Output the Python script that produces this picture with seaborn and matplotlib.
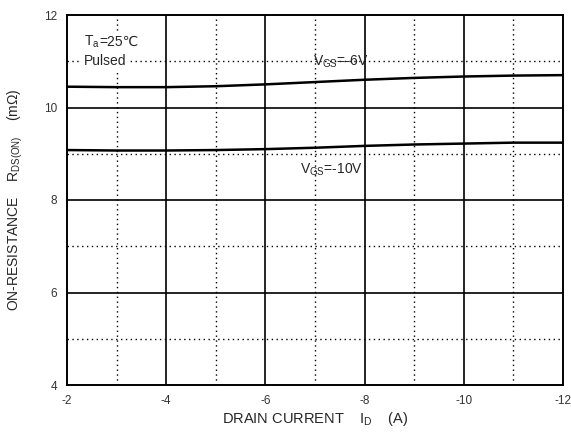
import matplotlib
matplotlib.use("Agg")
import matplotlib.pyplot as plt
import seaborn as sns
import pandas as pd
import numpy as np

# Data
drain_current = [-2, -3, -4, -5, -6, -7, -8, -9, -10, -11, -12]
r_vgs6 = [10.45, 10.44, 10.44, 10.46, 10.50, 10.55, 10.60, 10.64, 10.67, 10.69, 10.70]
r_vgs10 = [9.08, 9.07, 9.07, 9.08, 9.10, 9.13, 9.17, 9.20, 9.22, 9.24, 9.24]
x_ticks = [-2, -4, -6, -8, -10, -12]
y_ticks = [4, 6, 8, 10, 12]

sns.set_style("white")
plt.rcParams['font.family'] = ['Liberation Sans', 'DejaVu Sans']
plt.rcParams['mathtext.fontset'] = 'custom'
plt.rcParams['mathtext.rm'] = 'Liberation Sans'
plt.rcParams['mathtext.it'] = 'Liberation Sans'

df = pd.DataFrame({
    "ID": drain_current * 2,
    "R": r_vgs6 + r_vgs10,
    "curve": ["-6"] * len(drain_current) + ["-10"] * len(drain_current),
})

fig = plt.figure(figsize=(5.71, 4.32), dpi=100)
ax = fig.add_axes([67/571, 1-385/432, (563-67)/571, (385-15)/432])

# grid
for xv in [-3, -5, -7, -9, -11]:
    ax.axvline(xv, color="black", lw=1.0, ls=(0, (1, 2.5)), zorder=1)
for yv in [5, 7, 9, 11]:
    ax.axhline(yv, color="black", lw=1.0, ls=(0, (1, 2.5)), zorder=1)
for xv in [-4, -6, -8, -10]:
    ax.axvline(xv, color="black", lw=1.2, zorder=1)
for yv in [6, 8, 10]:
    ax.axhline(yv, color="black", lw=1.2, zorder=1)

sns.lineplot(data=df, x="ID", y="R", hue="curve", palette=["black", "black"],
             lw=1.8, legend=False, ax=ax, zorder=3, sort=True)

ax.set_xlim(-2, -12)
ax.set_ylim(4, 12)
ax.set_xticks(x_ticks)
ax.set_xticklabels([str(v) for v in x_ticks])
ax.set_yticks(y_ticks)
ax.set_yticklabels([str(v) for v in y_ticks])
ax.tick_params(length=0, labelsize=8.5, labelcolor="#333333", pad=7)
for s in ax.spines.values():
    s.set_color("black")
    s.set_linewidth(1.4)
    s.set_visible(True)

ax.set_xlabel("DRAIN CURRENT    I$_{\\mathrm{D}}$    (A)", fontsize=10.5, labelpad=2)
ax.set_ylabel("ON-RESISTANCE    R$_{\\mathrm{DS(ON)}}$    (m\u03a9)", fontsize=10, labelpad=14)

# white patch behind the condition text block
ax.fill_between([-2.3, -3.45], 11.15, 11.62, color="white", zorder=2, lw=0)
ax.text(-2.35, 11.33, "T$_{\\mathrm{a}}$", fontsize=10, va="baseline", ha="left", zorder=4)
ax.annotate("=25\u2103", xy=(-2.35, 11.33), xycoords="data", xytext=(10.5, 0),
            textcoords="offset points", fontsize=10, va="baseline", ha="left",
            family=["Liberation Sans", "DejaVu Sans"], zorder=4)
ax.text(-2.35, 11.0, "Pulsed", fontsize=10, va="center", ha="left",
        bbox=dict(facecolor="white", edgecolor="none", pad=2), zorder=4)
ax.text(-6.95, 10.98, "V$_{\\mathrm{GS}}$=-6V", fontsize=10, va="center", ha="left", zorder=4)
ax.text(-6.7, 8.65, "V$_{\\mathrm{GS}}$=-10V", fontsize=10, va="center", ha="left", zorder=4)

fig.savefig("out.png", dpi=100)
